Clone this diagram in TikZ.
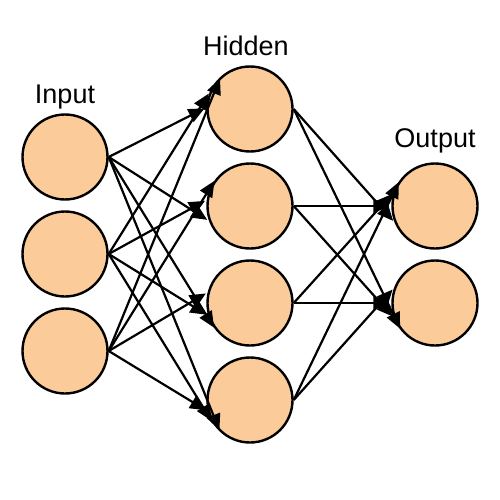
\documentclass[tikz,border=0pt]{standalone}
\usepackage{fontspec}
\setmainfont{Liberation Sans}
\usepackage{xcolor}
\usetikzlibrary{positioning,arrows.meta}
\definecolor{neuronfill}{RGB}{251,204,153}

\begin{document}
\begin{tikzpicture}[x=1pt,y=1pt]
\tikzstyle{neuron}=[circle,draw=black,fill=neuronfill,line width=2.4pt,minimum size=85pt,inner sep=0pt]
\tikzstyle{layername}=[anchor=base,inner sep=0pt,font=\fontsize{27}{32}\selectfont]
\tikzstyle{link}=[line width=2.2pt,shorten >=2pt,-{Triangle[length=16pt,width=14pt]}]
\useasboundingbox (0,0) rectangle (500,-500);
% input layer
\node [neuron] (i1) at (65,-157) {};
\node [neuron] (i2) at (65,-254) {};
\node [neuron] (i3) at (65,-351) {};
% hidden layer
\node [neuron] (h1) at (250,-109) {};
\node [neuron] (h2) at (250,-206) {};
\node [neuron] (h3) at (250,-303) {};
\node [neuron] (h4) at (250,-400) {};
% output layer
\node [neuron] (o1) at (435,-206) {};
\node [neuron] (o2) at (435,-303) {};
% labels
\node [layername] (inputname) at (65,-103) {Input};
\node [layername] (hiddenname) at (246,-56) {Hidden};
\node [layername] (outputname) at (435,-147) {Output};
% input to hidden
\draw [link] (i1.east) -- (h1.178);
\draw [link] (i2.east) -- (h1.157);
\draw [link] (i3.east) -- (h1.132);
\draw [link] (i1.east) -- (h2.200);
\draw [link] (i2.east) -- (h2.172);
\draw [link] (i3.east) -- (h2.142);
\draw [link] (i1.east) -- (h3.217);
\draw [link] (i2.east) -- (h3.197);
\draw [link] (i3.east) -- (h3.166);
\draw [link] (i1.east) -- (h4.227);
\draw [link] (i2.east) -- (h4.211);
\draw [link] (i3.east) -- (h4.195);
% hidden to output
\draw [link] (h1.east) -- (o1.202);
\draw [link] (h2.east) -- (o1.180);
\draw [link] (h3.east) -- (o1.162);
\draw [link] (h4.east) -- (o1.144);
\draw [link] (h1.east) -- (o2.219);
\draw [link] (h2.east) -- (o2.200);
\draw [link] (h3.east) -- (o2.180);
\draw [link] (h4.east) -- (o2.160);
\end{tikzpicture}
\end{document}
